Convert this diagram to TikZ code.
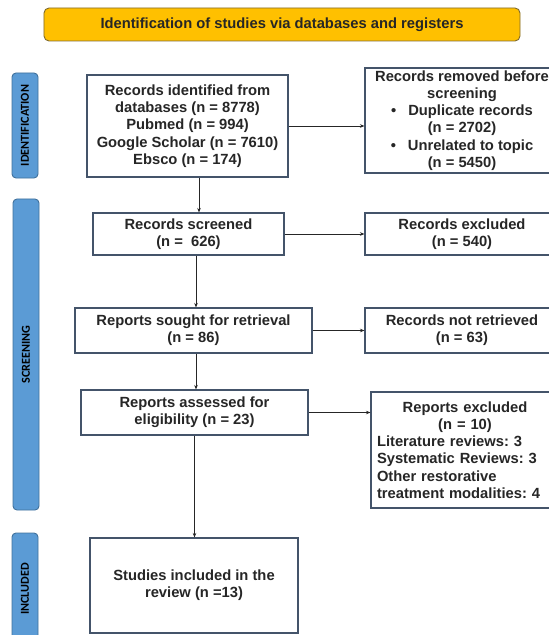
\documentclass[tikz,border=0pt]{standalone}
\usepackage{fontspec}
\setmainfont{Liberation Sans}
\newfontfamily\sidefont{Carlito}
\usetikzlibrary{arrows.meta}
\definecolor{bannerfill}{HTML}{FFC000}
\definecolor{bannerline}{HTML}{7F6A2E}
\definecolor{barfill}{HTML}{5B9BD5}
\definecolor{barline}{HTML}{41719C}
\definecolor{boxline}{HTML}{44546A}
\definecolor{txt}{HTML}{262626}
\begin{document}
\begin{tikzpicture}[x=1bp,y=-1bp,
  >={Stealth[length=4.5bp,width=3.5bp]},
  box/.style={draw=boxline,line width=1.1bp,fill=white,shape=rectangle,align=center,inner sep=0pt,text=txt,font=\frenchspacing\bfseries\fontsize{14.8}{17.3}\selectfont},
  banner/.style={draw=bannerline,line width=0.9bp,fill=bannerfill,rounded corners=5bp,inner sep=0pt,text=txt,font=\bfseries\fontsize{14.8}{17.3}\selectfont},
  bar/.style={draw=barline,line width=0.9bp,fill=barfill,rounded corners=4bp,rotate=90,minimum height=26bp,inner sep=0pt,text=black,font=\sidefont\bfseries\fontsize{12.2}{12}\selectfont},
  link/.style={->,line width=0.8bp,black!85}]
\clip (0,0) rectangle (549,635);
\node[banner,minimum width=476bp,minimum height=33bp](title) at (282,24.5){Identification of studies via databases and registers};
% phase bars
\node[bar,minimum width=105bp](idbar) at (25,125.5){IDENTIFICATION};
\node[bar,minimum width=311bp](scrbar) at (26,354.5){SCREENING};
\node[bar,minimum width=112bp](incbar) at (25,589){INCLUDED};
% main column
\node[box,minimum width=201bp,minimum height=102bp](ident) at (187.5,126){Records identified from\\databases (n = 8778)\\Pubmed (n = 994)\\Google Scholar (n = 7610)\\Ebsco (n = 174)};
\node[box,minimum width=191bp,minimum height=42bp](screened) at (188.5,234){Records screened\\(n = \ 626)};
\node[box,minimum width=237bp,minimum height=45bp](sought) at (193.5,330.5){Reports sought for retrieval\\(n = 86)};
\node[box,minimum width=227bp,minimum height=45bp](assessed) at (194.5,412.5){Reports assessed for\\eligibility (n = 23)};
\node[box,minimum width=208bp,minimum height=95bp](incl) at (194,585.5){Studies included in the\\review (n =13)};
% side column
\node[box,minimum width=194bp,minimum height=105bp](removed) at (462,120.5){Records removed before\\screening\\\textbullet\hspace{12bp}Duplicate records\\(n = 2702)\\\textbullet\hspace{12bp}Unrelated to topic\\(n = 5450)};
\node[box,minimum width=194bp,minimum height=42bp](excl) at (462,234){Records excluded\\(n = 540)};
\node[box,minimum width=194bp,minimum height=45bp](notret) at (462,330.5){Records not retrieved\\(n = 63)};
\node[box,minimum width=188bp,minimum height=116bp,align=left,text width=176bp](repexcl) at (465,450){\makebox[176bp]{Reports excluded}\\\makebox[176bp]{(n = 10)}\\Literature reviews: 3\\Systematic Reviews: 3\\Other restorative\\treatment modalities: 4};
% arrows
\draw[link] (ident.east) -- (ident.east -| removed.west);
\draw[link] ([xshift=11.5bp]ident.south) -- ([xshift=11.5bp]ident.south |- screened.north);
\draw[link] (screened.east) -- (excl.west);
\draw[link] ([xshift=7.5bp]screened.south) -- ([xshift=7.5bp]screened.south |- sought.north);
\draw[link] (sought.east) -- (notret.west);
\draw[link] ([xshift=2.5bp]sought.south) -- ([xshift=2.5bp]sought.south |- assessed.north);
\draw[link] (assessed.east) -- (assessed.east -| repexcl.west);
\draw[link] (assessed.south) -- (assessed.south |- incl.north);
\end{tikzpicture}
\end{document}
